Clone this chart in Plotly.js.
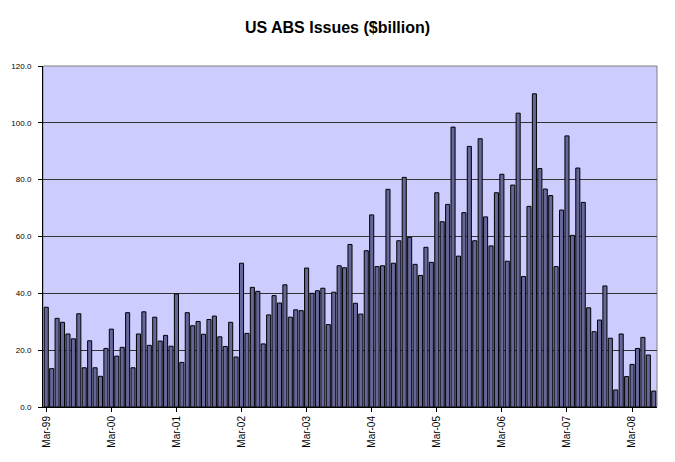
<!DOCTYPE html>
<html>
<head>
<meta charset="utf-8">
<script src="https://cdn.plot.ly/plotly-3.0.1.min.js"></script>
<style>html,body{margin:0;padding:0;background:#fff;}#chart{width:675px;height:462px;}</style>
</head>
<body>
<div id="chart"></div>
<script>
// Month names and years for the category axis (Mar-99 .. Jul-08)
const monthNames = ["Jan","Feb","Mar","Apr","May","Jun","Jul","Aug","Sep","Oct","Nov","Dec"];
const startYear = 1999, startMonth = 2; // March 1999

// Monthly US ABS issuance, $billion
const values1999 = [35.1, 13.5, 31.2, 29.8, 25.7, 24.0, 32.8, 13.8, 23.3, 13.8, 10.8, 20.6];   // Mar-99..Feb-00
const values2000 = [27.4, 17.9, 21.0, 33.2, 13.8, 25.7, 33.5, 21.7, 31.6, 23.2, 25.2, 21.4];   // Mar-00..Feb-01
const values2001 = [39.8, 15.7, 33.2, 28.6, 30.1, 25.6, 30.8, 32.0, 24.7, 21.3, 29.8, 17.6];   // Mar-01..Feb-02
const values2002 = [50.6, 25.9, 42.1, 40.7, 22.2, 32.4, 39.2, 36.6, 43.0, 31.6, 34.2, 33.9];   // Mar-02..Feb-03
const values2003 = [48.9, 40.0, 40.9, 41.8, 29.0, 40.4, 49.7, 49.0, 57.2, 36.5, 32.7, 55.0];   // Mar-03..Feb-04
const values2004 = [67.6, 49.4, 49.7, 76.6, 50.6, 58.5, 80.8, 59.7, 50.2, 46.3, 56.2, 50.9];   // Mar-04..Feb-05
const values2005 = [75.4, 65.2, 71.3, 98.5, 53.1, 68.4, 91.7, 58.5, 94.4, 66.9, 56.7, 75.4];   // Mar-05..Feb-06
const values2006 = [81.9, 51.3, 78.1, 103.4, 45.9, 70.6, 110.2, 83.9, 76.7, 74.4, 49.4, 69.3]; // Mar-06..Feb-07
const values2007 = [95.4, 60.4, 84.1, 72.0, 34.9, 26.5, 30.6, 42.6, 24.2, 6.0, 25.7, 10.7];    // Mar-07..Feb-08
const values2008 = [15.0, 20.6, 24.5, 18.3, 5.6];                                              // Mar-08..Jul-08

const values = [].concat(values1999, values2000, values2001, values2002, values2003,
                         values2004, values2005, values2006, values2007, values2008);

const categories = [];
for (let i = 0; i < values.length; i++) {
  const m = (startMonth + i) % 12;
  const y = startYear + Math.floor((startMonth + i) / 12);
  categories.push(monthNames[m] + "-" + String(y % 100).padStart(2, "0"));
}
const tickLabels = categories.filter(c => c.startsWith("Mar-"));

const trace = {
  type: "bar",
  x: categories,
  y: values,
  marker: { color: "#666699", line: { color: "#000000", width: 1 } },
  hoverinfo: "x+y"
};

const layout = {
  width: 675,
  height: 462,
  margin: { l: 43, r: 18, t: 66, b: 55 },
  paper_bgcolor: "#ffffff",
  plot_bgcolor: "#CCCCFF",
  showlegend: false,
  bargap: 0.25,
  font: { family: "Liberation Sans, Arial, sans-serif", color: "#000000" },
  title: {
    text: "<b>US ABS Issues ($billion)</b>",
    font: { family: "Liberation Sans, Arial, sans-serif", size: 16, color: "#000000" },
    x: 0.5, xanchor: "center", y: 0.94, yanchor: "middle"
  },
  xaxis: {
    type: "category",
    tickmode: "array",
    tickvals: tickLabels,
    ticktext: tickLabels,
    tickangle: -90,
    tickfont: { size: 10, color: "#000000" },
    ticks: "outside",
    ticklen: 4,
    tickcolor: "#000000",
    showgrid: false,
    showline: true,
    linecolor: "#000000",
    linewidth: 1,
    zeroline: false,
    range: [-0.6, values.length - 0.4],
    fixedrange: true
  },
  yaxis: {
    range: [0, 120],
    tickmode: "linear",
    tick0: 0,
    dtick: 20,
    tickformat: ".1f",
    tickfont: { size: 8, color: "#000000" },
    ticks: "outside",
    ticklen: 4,
    tickcolor: "#000000",
    ticklabelstandoff: 5,
    showgrid: true,
    gridcolor: "#333333",
    gridwidth: 1,
    showline: true,
    linecolor: "#000000",
    linewidth: 1,
    zeroline: false,
    fixedrange: true
  },
  shapes: [{
    type: "rect", xref: "paper", yref: "paper",
    x0: 0, x1: 1, y0: 0, y1: 1,
    line: { color: "#808080", width: 1 },
    fillcolor: "rgba(0,0,0,0)",
    layer: "below"
  }]
};

Plotly.newPlot("chart", [trace], layout, { displayModeBar: false, staticPlot: true });
</script>
</body>
</html>
